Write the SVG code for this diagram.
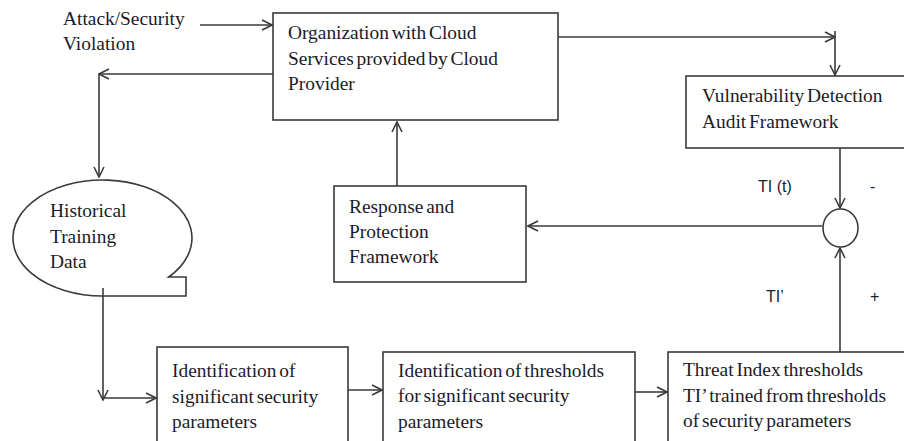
<svg xmlns="http://www.w3.org/2000/svg" width="904" height="441" viewBox="0 0 904 441">
<style>
.box{fill:#fff;stroke:#3a3a3a;stroke-width:1.6}
.ln{fill:none;stroke:#3a3a3a;stroke-width:1.6}
.t{font-family:"Liberation Serif","Times New Roman",serif;font-size:19.4px;fill:#1b1b2a;word-spacing:-2px}
.s{font-family:"Liberation Sans",Arial,sans-serif;font-size:16px;fill:#1b1b2a}
</style>
<defs>
<marker id="ah" viewBox="0 0 12 12" refX="11" refY="6" markerWidth="12" markerHeight="12" markerUnits="userSpaceOnUse" orient="auto">
<path d="M1,1 L11,6 L1,11" fill="none" stroke="#3a3a3a" stroke-width="1.6"/>
</marker>
</defs>
<rect width="904" height="441" fill="#fff"/>
<g id="connectors">
<line class="ln" x1="200" y1="25" x2="272" y2="25" marker-end="url(#ah)"/>
<polyline class="ln" points="273,74 99,74" marker-end="url(#ah)"/>
<line class="ln" x1="99" y1="74" x2="99" y2="177" marker-end="url(#ah)"/>
<line class="ln" x1="558" y1="37" x2="835" y2="37" marker-end="url(#ah)"/>
<line class="ln" x1="835" y1="31" x2="835" y2="75" marker-end="url(#ah)"/>
<line class="ln" x1="840" y1="148" x2="840" y2="208" marker-end="url(#ah)"/>
<line class="ln" x1="840" y1="352" x2="840" y2="248" marker-end="url(#ah)"/>
<line class="ln" x1="822" y1="226" x2="528" y2="226" marker-end="url(#ah)"/>
<line class="ln" x1="397" y1="186" x2="397" y2="122" marker-end="url(#ah)"/>
<line class="ln" x1="103" y1="288" x2="103" y2="400" marker-end="url(#ah)"/>
<line class="ln" x1="103" y1="398" x2="156" y2="398" marker-end="url(#ah)"/>
<line class="ln" x1="348" y1="390" x2="382" y2="390" marker-end="url(#ah)"/>
<line class="ln" x1="635" y1="392" x2="667" y2="392" marker-end="url(#ah)"/>
</g>
<g id="attack">
<text class="t" x="63" y="25">Attack/Security</text>
<text class="t" x="63" y="50">Violation</text>
</g>
<g id="org">
<rect class="box" x="273" y="13" width="285" height="107"/>
<text class="t" x="288" y="39">Organization with Cloud</text>
<text class="t" x="288" y="65">Services provided by Cloud</text>
<text class="t" x="288" y="90">Provider</text>
</g>
<g id="vuln">
<rect class="box" x="686" y="76" width="230" height="72"/>
<text class="t" x="702" y="102">Vulnerability Detection</text>
<text class="t" x="702" y="128">Audit Framework</text>
</g>
<g id="historical">
<path class="ln" d="M186,277 L168.7,277 A89.5,58 0 1 0 102.5,296 L186,296 Z"/>
<text class="t" x="50" y="217">Historical</text>
<text class="t" x="50" y="243">Training</text>
<text class="t" x="50" y="268">Data</text>
</g>
<g id="response">
<rect class="box" x="334" y="186" width="192" height="96"/>
<text class="t" x="349" y="213">Response and</text>
<text class="t" x="349" y="238">Protection</text>
<text class="t" x="349" y="263">Framework</text>
</g>
<g id="comparator">
<ellipse class="ln" cx="840.5" cy="228" rx="17.5" ry="19" fill="#fff"/>
<text class="s" x="758" y="192">TI (t)</text>
<text class="s" x="870" y="192">-</text>
<text class="s" x="766" y="302">TI’</text>
<text class="s" x="870" y="302">+</text>
</g>
<g id="ident-params">
<rect class="box" x="157" y="347" width="191" height="110"/>
<text class="t" x="172" y="377">Identification of</text>
<text class="t" x="172" y="403">significant security</text>
<text class="t" x="172" y="428">parameters</text>
</g>
<g id="ident-thresholds">
<rect class="box" x="383" y="352" width="252" height="110"/>
<text class="t" x="398" y="377">Identification of thresholds</text>
<text class="t" x="398" y="402">for significant security</text>
<text class="t" x="398" y="428">parameters</text>
</g>
<g id="threat-index">
<rect class="box" x="668" y="352" width="250" height="110"/>
<text class="t" x="683" y="376">Threat Index thresholds</text>
<text class="t" x="683" y="402">TI’ trained from thresholds</text>
<text class="t" x="683" y="427">of security parameters</text>
</g>
</svg>
